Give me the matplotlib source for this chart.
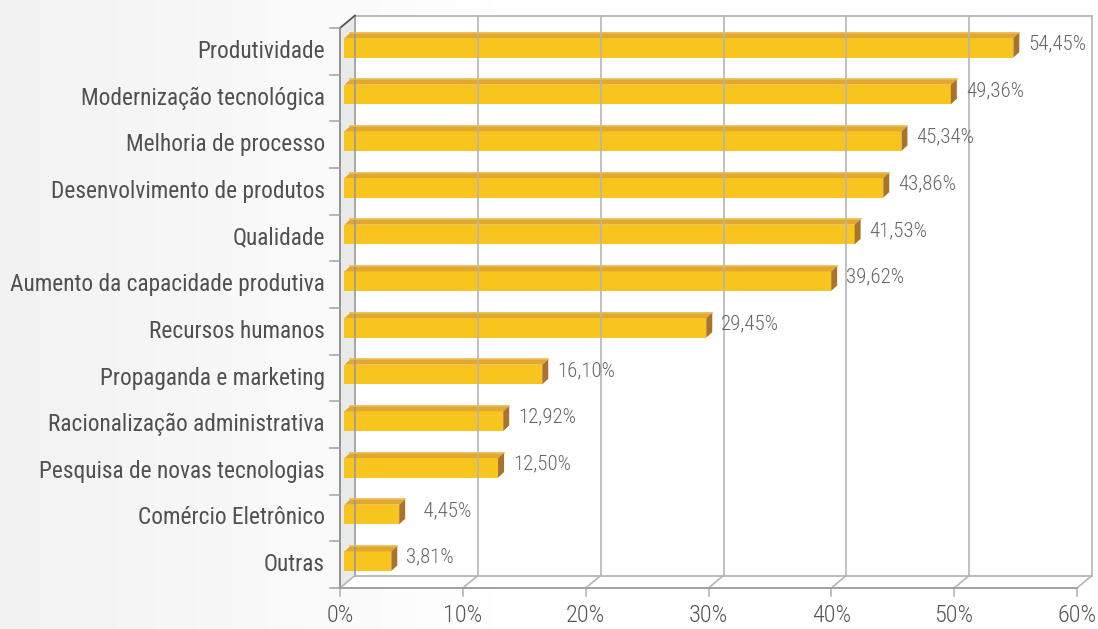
import matplotlib
matplotlib.use("Agg")
import matplotlib.pyplot as plt
import numpy as np
from matplotlib.patches import Polygon

plt.rcParams['font.family'] = ['Roboto Condensed', 'Liberation Sans Narrow', 'DejaVu Sans']

categorias = ["Produtividade", "Modernização tecnológica", "Melhoria de processo",
              "Desenvolvimento de produtos", "Qualidade", "Aumento da capacidade produtiva",
              "Recursos humanos", "Propaganda e marketing", "Racionalização administrativa",
              "Pesquisa de novas tecnologias", "Comércio Eletrônico", "Outras"]
valores = [54.45, 49.36, 45.34, 43.86, 41.53, 39.62, 29.45, 16.10, 12.92, 12.50, 4.45, 3.81]
rotulos = ["54,45%", "49,36%", "45,34%", "43,86%", "41,53%", "39,62%", "29,45%",
           "16,10%", "12,92%", "12,50%", "  4,45%", "3,81%"]
ticks = [0, 10, 20, 30, 40, 50, 60]
tick_labels = ["0%", "10%", "20%", "30%", "40%", "50%", "60%"]

W, H = 1098, 629
fig = plt.figure(figsize=(W / 100, H / 100), dpi=100)
fig.patch.set_facecolor("white")

# faint grey background on the left side
bg = fig.add_axes([0, 0, 1, 1], zorder=-10)
grad = np.linspace(0, 1, 300)
grad = np.clip(grad / 0.45, 0, 1)[None, :]
bg.imshow(grad, aspect='auto', cmap=matplotlib.colors.LinearSegmentedColormap.from_list(
    "bg", ["#f2f2f2", "#ffffff"]), extent=[0, 1, 0, 1])
bg.axis('off')

ax_l, ax_b, ax_w, ax_h = 340, 41, 737, 560
ax = fig.add_axes([ax_l / W, ax_b / H, ax_w / W, ax_h / H])
ax.set_xlim(0, 60)
ax.set_ylim(-0.5, 11.5)
ax.axis('off')

# pixels -> data units
ppx = ax_w / 60.0
ppy = ax_h / 12.0
DX, DY = 15 / ppx, 12.5 / ppy          # depth of the box
bx0, by0 = 4.5 / ppx, 3.5 / ppy        # front of the bars
bdx, bdy = 6 / ppx, 5.5 / ppy          # depth of the bars
ymin, ymax = -0.5, 11.5
xmax = ticks[-1]

grid_c = "#b5b5b5"
kw = dict(clip_on=False)

# back wall / floor in white
ax.add_patch(Polygon([(0, ymin), (DX, ymin + DY), (DX, ymax + DY), (xmax + DX, ymax + DY),
                      (xmax + DX, ymin + DY), (xmax, ymin)],
                     closed=True, facecolor="white", edgecolor="none", zorder=0, **kw))
# left wall
ax.add_patch(Polygon([(0, ymin), (0, ymax), (DX, ymax + DY), (DX, ymin + DY)],
                     closed=True, facecolor="#e9ebeb", edgecolor="none", **kw))
# back wall lines
ax.plot([DX, xmax + DX], [ymax + DY, ymax + DY], color=grid_c, lw=1.3, **kw)
ax.plot([DX, xmax + DX], [ymin + DY, ymin + DY], color=grid_c, lw=1.3, **kw)
ax.plot([DX, DX], [ymin + DY, ymax + DY], color="#9a9a9a", lw=1.2, **kw)
for t in ticks[1:]:
    ax.plot([t + DX, t + DX], [ymin + DY, ymax + DY], color=grid_c, lw=1.2, **kw)
# floor diagonals
for t in ticks:
    ax.plot([t, t + DX], [ymin, ymin + DY], color=grid_c, lw=1.2, **kw)
    ax.plot([t, t], [ymin, ymin - 8 / ppy], color=grid_c, lw=1.2, **kw)
ax.plot([0, xmax], [ymin, ymin], color="#a0a0a0", lw=1.4, **kw)
# left axis
ax.plot([0, 0], [ymin, ymax], color="#8a8a8a", lw=1.3, **kw)
ax.plot([0, DX], [ymax, ymax + DY], color="#555555", lw=1.3, **kw)
for k in range(13):
    ax.plot([-10 / ppx, 0], [ymin + k, ymin + k], color="#a0a0a0", lw=1.1, **kw)

# bars
n = len(categorias)
h = 0.42
for i, (cat, v, lab) in enumerate(zip(categorias, valores, rotulos)):
    y = n - 1 - i
    yc = y + by0
    x0, x1 = bx0, bx0 + v
    y0, y1 = yc - h / 2, yc + h / 2
    ax.barh(yc, v, left=x0, height=h, color="#f8c51f", edgecolor="none", **kw)
    ax.add_patch(Polygon([(x0, y1), (x1, y1), (x1 + bdx, y1 + bdy), (x0 + bdx, y1 + bdy)],
                         closed=True, facecolor="#e1a82d", edgecolor="none", **kw))
    ax.plot([x0 + bdx, x1 + bdx], [y1 + bdy, y1 + bdy], color="#eabb52", lw=1.2, **kw)
    ax.add_patch(Polygon([(x1, y0), (x1 + bdx, y0 + bdy), (x1 + bdx, y1 + bdy), (x1, y1)],
                         closed=True, facecolor="#a9732c", edgecolor="none", **kw))
    ax.text(x1 + bdx + 9 / ppx, yc + 4 / ppy, lab, ha='left', va='center',
            fontsize=15, color="#666666", fontweight='light')
    ax.text(-15 / ppx, y, cat, ha='right', va='center', fontsize=16.8, color="#505050")

for t, tl in zip(ticks, tick_labels):
    ax.text(t, ymin - 27 / ppy, tl, ha='center', va='center', fontsize=17.5, color="#555555",
            fontweight='light')

fig.savefig("out.png", dpi=100)
